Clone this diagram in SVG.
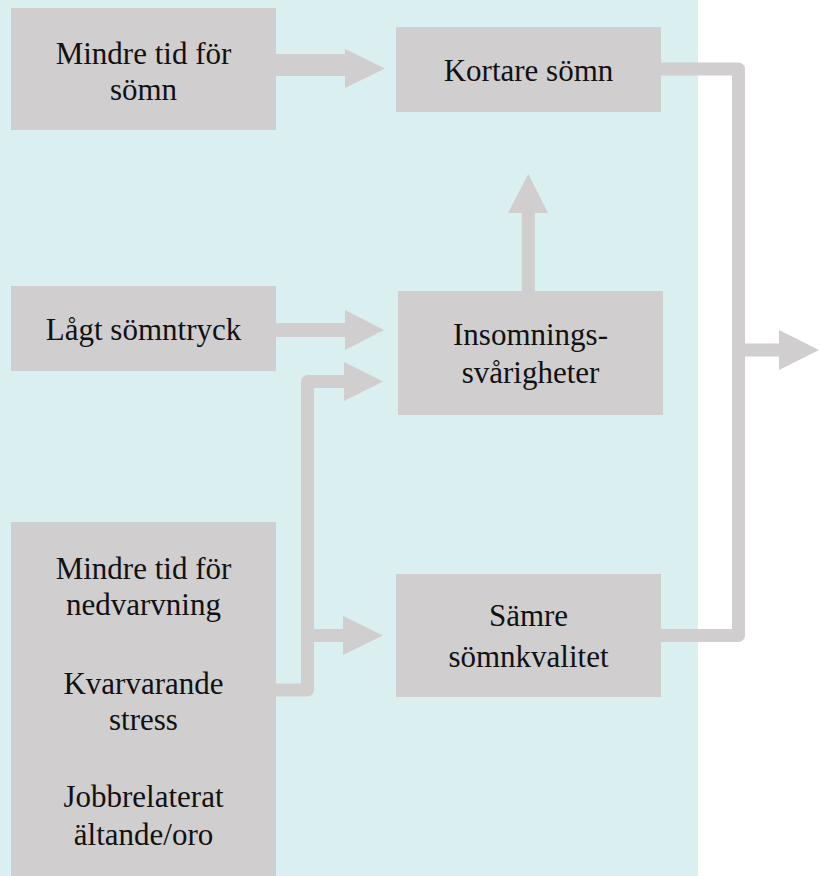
<svg xmlns="http://www.w3.org/2000/svg" width="820" height="876" viewBox="0 0 820 876">
<style>
.box{fill:#D0CECF}
.t{font-family:'Liberation Serif','DejaVu Serif',serif;font-size:31px;fill:#111;text-anchor:middle}
.ln{fill:none;stroke:#D0CECF;stroke-linejoin:round}
.hd{fill:#D0CECF}
</style>
<rect x="0" y="0" width="698" height="876" fill="#DAEFF0"/>
<g id="connectors">
<path class="ln" stroke-width="22" d="M276 65 H346"/>
<polygon class="hd" points="345,49 385,68.5 345,88"/>
<path class="ln" stroke-width="14" d="M276 330 H346"/>
<polygon class="hd" points="345,310 384,330 345,350"/>
<path class="ln" stroke-width="13" d="M276 690 H307.5 V381.5 H345"/>
<polygon class="hd" points="344,362 383,381.5 344,401"/>
<path class="ln" stroke-width="13" d="M307.5 635.5 H344"/>
<polygon class="hd" points="343,616 383,635.5 343,655"/>
<path class="ln" stroke-width="13" d="M528.3 291 V212"/>
<polygon class="hd" points="508,213 528.3,174 548,213"/>
<path class="ln" stroke-width="13" d="M661 69 H738.5 V635.5 H661"/>
<path class="ln" stroke-width="13" d="M738.5 350 H780"/>
<polygon class="hd" points="779,330 819,350 779,370"/>
</g>
<g font-family="Liberation Serif, serif">
<g id="n1"><rect class="box" x="11" y="8" width="265" height="122"/>
<text class="t" x="143.5" y="63.5">Mindre tid för</text><text class="t" x="143.5" y="99.5">sömn</text></g>
<g id="n2"><rect class="box" x="396" y="27" width="265" height="85"/>
<text class="t" x="528.5" y="81">Kortare sömn</text></g>
<g id="n3"><rect class="box" x="11" y="286" width="265" height="85"/>
<text class="t" x="143.5" y="340">Lågt sömntryck</text></g>
<g id="n4"><rect class="box" x="398" y="291" width="265" height="124"/>
<text class="t" x="530.5" y="345">Insomnings-</text><text class="t" x="530.5" y="382.5">svårigheter</text></g>
<g id="n5"><rect class="box" x="396" y="574" width="265" height="123"/>
<text class="t" x="528.5" y="626">Sämre</text><text class="t" x="528.5" y="667">sömnkvalitet</text></g>
<g id="n6"><rect class="box" x="11" y="522" width="265" height="354"/>
<text class="t" x="143.5" y="579">Mindre tid för</text><text class="t" x="143.5" y="615">nedvarvning</text>
<text class="t" x="143.5" y="694">Kvarvarande</text><text class="t" x="143.5" y="730">stress</text>
<text class="t" x="143.5" y="807">Jobbrelaterat</text><text class="t" x="143.5" y="845">ältande/oro</text></g>
</g>
</svg>
